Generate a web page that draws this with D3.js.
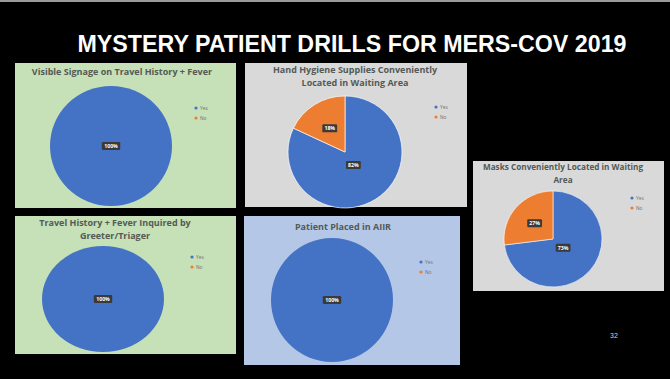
<!DOCTYPE html>
<html>
<head>
<meta charset="utf-8">
<script src="https://cdn.jsdelivr.net/npm/d3@7"></script>
<style>
  html, body { margin: 0; padding: 0; background: #000; }
  svg { display: block; }
</style>
</head>
<body>
<svg id="chart" width="670" height="379"></svg>
<script>
// ---- Data ----
const slideTitle = "MYSTERY PATIENT DRILLS FOR MERS-COV 2019";
const chartTitles = [
  ["Visible Signage on Travel History + Fever"],
  ["Hand Hygiene Supplies Conveniently", "Located in Waiting Area"],
  ["Masks Conveniently Located in Waiting", "Area"],
  ["Travel History + Fever Inquired by", "Greeter/Triager"],
  ["Patient Placed in AIIR"]
];
const categories = ["Yes", "No"];
const yesValues = [100, 82, 73, 100, 100];
const noValues  = [0, 18, 27, 0, 0];
const slideNumber = "32";

// ---- Layout (not data) ----
const panels = [
  {x: 15,  y: 63,  w: 221, h: 145, bg: "#c6e0b8", cx: 111, cy: 146, rx: 61, ry: 60, tx: 122, ty: 75,  tf: 9,   lx: 196, ly: 108},
  {x: 245, y: 63,  w: 222, h: 144, bg: "#d9d9d9", cx: 345, cy: 152, rx: 57, ry: 56, tx: 355, ty: 73,  tf: 9,   lx: 436, ly: 107},
  {x: 473, y: 161, w: 191, h: 130, bg: "#d9d9d9", cx: 553, cy: 239, rx: 49, ry: 48, tx: 563, ty: 170, tf: 8.2, lx: 632, ly: 198},
  {x: 15,  y: 216, w: 221, h: 138, bg: "#c6e0b8", cx: 103, cy: 299, rx: 61, ry: 53, tx: 115, ty: 226, tf: 9,   lx: 192, ly: 257},
  {x: 244, y: 216, w: 216, h: 149, bg: "#b4c7e7", cx: 332, cy: 300, rx: 61, ry: 62, tx: 343, ty: 230, tf: 9,   lx: 421, ly: 262}
];
const colors = d3.scaleOrdinal().domain(categories).range(["#4472c4", "#ed7d31"]);

const svg = d3.select("#chart");
svg.append("rect").attr("x", 0).attr("y", 0).attr("width", 670).attr("height", 379).attr("fill", "#000");
svg.append("rect").attr("x", 0).attr("y", 0).attr("width", 670).attr("height", 2).attr("fill", "#9a9a9a");

// Slide title
svg.append("text")
  .attr("x", 352).attr("y", 52)
  .attr("text-anchor", "middle")
  .attr("fill", "#fff")
  .attr("font-family", "'Liberation Sans', Arial, sans-serif")
  .attr("font-weight", "bold")
  .attr("font-size", 24)
  .attr("textLength", 549)
  .attr("lengthAdjust", "spacingAndGlyphs")
  .text(slideTitle);

const pie = d3.pie().sort(null).value(d => d.value);

panels.forEach((p, i) => {
  const g = svg.append("g");
  g.append("rect").attr("x", p.x).attr("y", p.y).attr("width", p.w).attr("height", p.h).attr("fill", p.bg);

  // title
  const titleG = g.append("text")
    .attr("text-anchor", "middle")
    .attr("fill", "#545a54")
    .attr("font-family", "'Open Sans', 'Noto Sans', sans-serif")
    .attr("font-weight", "bold")
    .attr("font-size", p.tf);
  chartTitles[i].forEach((line, j) => {
    titleG.append("tspan").attr("x", p.tx).attr("y", p.ty + j * 12.5).text(line);
  });

  const data = categories.map((c, k) => ({cat: c, value: k === 0 ? yesValues[i] : noValues[i]}));
  const arcs = pie(data).filter(d => d.value > 0);
  const arc = d3.arc().innerRadius(0).outerRadius(1);
  const total = d3.sum(data, d => d.value);
  // label arc: larger slices get labels pulled closer to the centre (Excel best-fit look)
  const labelArc = d => {
    const rr = d.value / total > 0.5 ? 0.55 : 1;
    return d3.arc().innerRadius(0).outerRadius(rr).centroid(d);
  };

  const pg = g.append("g").attr("transform", `translate(${p.cx},${p.cy}) scale(${p.rx},${p.ry})`);
  pg.selectAll("path").data(arcs).join("path")
    .attr("d", arc)
    .attr("fill", d => colors(d.data.cat))
    .attr("stroke", "#fff")
    .attr("stroke-width", arcs.length > 1 ? 0.012 : 0);

  // data labels
  arcs.forEach(d => {
    let lx = p.cx, ly = p.cy;
    if (arcs.length > 1) {
      const c = labelArc(d);
      lx = p.cx + c[0] * p.rx;
      ly = p.cy + c[1] * p.ry;
    }
    const txt = Math.round(d.value / total * 100) + "%";
    const bw = txt.length * 3.6 + 4, bh = 8;
    g.append("rect").attr("x", lx - bw / 2).attr("y", ly - bh / 2)
      .attr("width", bw).attr("height", bh).attr("rx", 1.2).attr("fill", "#3a3a3a");
    g.append("text").attr("x", lx).attr("y", ly + 2)
      .attr("text-anchor", "middle").attr("fill", "#fff")
      .attr("font-family", "'Open Sans', sans-serif").attr("font-weight", "bold")
      .attr("font-size", 5.2).text(txt);
  });

  // legend
  categories.forEach((c, k) => {
    const y = p.ly + k * 10;
    g.append("circle").attr("cx", p.lx).attr("cy", y).attr("r", 1.6).attr("fill", colors(c));
    g.append("text").attr("x", p.lx + 4).attr("y", y + 1.8)
      .attr("fill", "#707070").attr("font-family", "'Open Sans', sans-serif")
      .attr("font-size", 4.8).text(c);
  });
});

// slide number
svg.append("text").attr("x", 614).attr("y", 338).attr("text-anchor", "middle")
  .attr("fill", "#d0d0d0").attr("font-family", "'Liberation Sans', Arial, sans-serif")
  .attr("font-size", 7).text(slideNumber);
</script>
</body>
</html>
